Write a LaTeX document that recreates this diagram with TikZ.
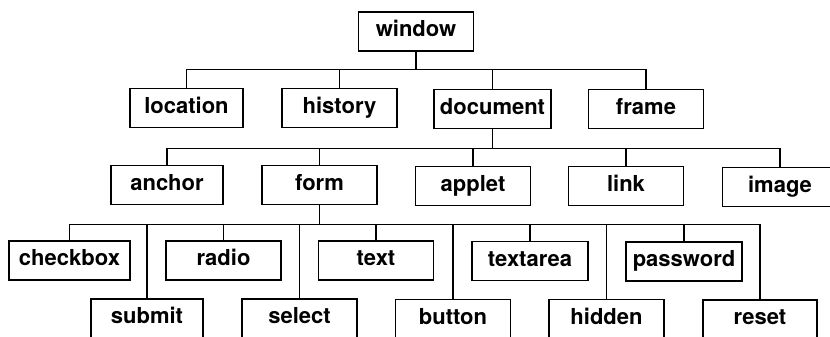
\documentclass[tikz,border=0pt]{standalone}
\usepackage{fontspec}
\setmainfont{TeX Gyre Heros}

\begin{document}
\begin{tikzpicture}
[x=1pt, y=-1pt, line width=1.3pt,
 box/.style={draw, rectangle, minimum width=115pt, minimum height=39pt, inner sep=0pt,
   text height=15.5pt, text depth=5pt, font=\fontsize{22}{25}\selectfont\bfseries}]

\useasboundingbox (0,0) rectangle (830,337);
\clip (0,0) rectangle (830,337);

\node[box] (window) at(416,31.5) {window};

% level 1
\node[box, minimum width=113pt] (location) at(186.5,108) {location};
\node[box] (history) at(339.5,108) {history};
\node[box, minimum width=117pt] (document) at(492.5,109) {document};
\node[box] (frame) at(646,109) {frame};

% level 2
\node[box, minimum width=112pt] (anchor) at(167,185) {anchor};
\node[box] (form) at(319.5,185) {form};
\node[box] (applet) at(473,186) {applet};
\node[box] (link) at(626,186) {link};
\node[box] (image) at(780,187) {image};

% level 3, upper row
\node[box, minimum width=121pt] (checkbox) at(69.5,260.5) {checkbox};
\node[box] (radio) at(223.5,260.5) {radio};
\node[box] (text) at(376,260.5) {text};
\node[box, minimum width=116pt] (textarea) at(530,261) {textarea};
\node[box, minimum width=116pt] (password) at(684,261.5) {password};

% level 3, lower row
\node[box, minimum width=112pt] (submit) at(147,318.5) {submit};
\node[box] (select) at(299.5,318.5) {select};
\node[box] (button) at(453,319) {button};
\node[box] (hidden) at(606.5,319) {hidden};
\node[box, minimum width=114pt] (reset) at(760,319.5) {reset};

\foreach \kid in {location,history,document,frame}
  \draw (window.south) -- ++(0,18) -| (\kid.north);

\foreach \kid in {anchor,form,applet,link,image}
  \draw (document.south) -- ++(0,19) -| (\kid.north);

\foreach \kid in {checkbox,submit,radio,select,text,button,textarea,hidden,password,reset}
  \draw (form.south) -- ++(0,19) -| (\kid.north);

\end{tikzpicture}
\end{document}
